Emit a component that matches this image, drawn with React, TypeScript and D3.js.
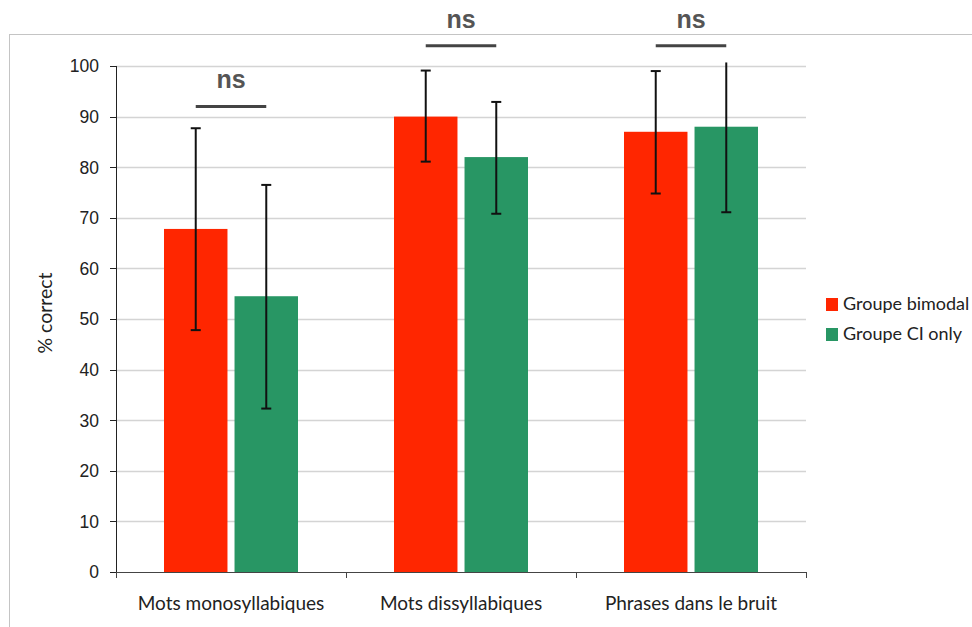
import React from "react";
import * as d3 from "d3";

const categories = ["Mots monosyllabiques", "Mots dissyllabiques", "Phrases dans le bruit"];
const seriesNames = ["Groupe bimodal", "Groupe CI only"];
const bimodalValues = [67.8, 90.0, 87.0];
const ciOnlyValues = [54.5, 82.0, 88.0];
const bimodalErrLow = [47.8, 81.1, 74.8];
const bimodalErrHigh = [87.7, 99.1, 99.0];
const ciOnlyErrLow = [32.3, 70.8, 71.1];
const ciOnlyErrHigh = [76.5, 92.9, 100.7];
const yTicks = [0, 10, 20, 30, 40, 50, 60, 70, 80, 90, 100];
const sigLabels = ["ns", "ns", "ns"];
const sigLevels = [92, 104, 104];

const colors = ["#ff2600", "#289664"];

export default function App() {
  const W = 972, H = 627;
  const left = 116, right = 806, top = 66, bottom = 572;
  const y = d3.scaleLinear().domain([0, 100]).range([bottom, top]);
  const x0 = d3.scaleBand().domain(categories).range([left, right]).paddingInner(0).paddingOuter(0);
  const x1 = d3.scaleBand().domain(seriesNames).range([48, x0.bandwidth() - 48]).paddingInner(0.1);
  const values = [bimodalValues, ciOnlyValues];
  const lows = [bimodalErrLow, ciOnlyErrLow];
  const highs = [bimodalErrHigh, ciOnlyErrHigh];
  const font = "Lato, 'Open Sans', sans-serif";

  return (
    <svg width={W} height={H} style={{ position: "absolute", left: 0, top: 0 }}>
      <rect x={0} y={0} width={W} height={H} fill="#fff" />
      <rect x={9.5} y={34.5} width={W} height={H} fill="none" stroke="#c4c4c4" strokeWidth={1} />
      {yTicks.map((t) => (
        <g key={t}>
          {t > 0 && (
            <line x1={left} x2={right} y1={Math.round(y(t)) + 0.5} y2={Math.round(y(t)) + 0.5} stroke="#d4d4d4" strokeWidth={1.5} />
          )}
          <line x1={left - 6} x2={left} y1={Math.round(y(t)) + 0.5} y2={Math.round(y(t)) + 0.5} stroke="#222" />
          <text x={left - 17} y={y(t)} dy="0.36em" textAnchor="end" fontFamily="'Liberation Sans', Arial, sans-serif" fontSize={17.5} fill="#222">
            {t}
          </text>
        </g>
      ))}
      {categories.map((c, ci) => (
        <g key={c} transform={`translate(${x0(c)},0)`}>
          {seriesNames.map((s, si) => {
            const v = values[si][ci];
            const bx = x1(s)!;
            return (
              <rect key={s} x={bx} y={y(v)} width={x1.bandwidth()} height={y(0) - y(v)} fill={colors[si]} />
            );
          })}
        </g>
      ))}
      <line x1={left + 0.5} x2={left + 0.5} y1={top} y2={bottom} stroke="#222" />
      <line x1={left} x2={right} y1={bottom + 0.5} y2={bottom + 0.5} stroke="#444" />
      {[...categories.map((c) => x0(c)!), right].map((tx, i) => (
        <line key={i} x1={Math.round(tx) + 0.5} x2={Math.round(tx) + 0.5} y1={bottom} y2={bottom + 6} stroke="#444" />
      ))}
      {categories.map((c, ci) => (
        <g key={c} transform={`translate(${x0(c)},0)`}>
          {seriesNames.map((s, si) => {
            const cx = x1(s)! + x1.bandwidth() / 2;
            const lo = lows[si][ci];
            const hi = highs[si][ci];
            return (
              <g key={s}>
                <line x1={cx} x2={cx} y1={y(lo)} y2={y(hi)} stroke="#111" strokeWidth={2} />
                {hi <= 100 && <line x1={cx - 5} x2={cx + 5} y1={y(hi)} y2={y(hi)} stroke="#111" strokeWidth={2} />}
                <line x1={cx - 5} x2={cx + 5} y1={y(lo)} y2={y(lo)} stroke="#111" strokeWidth={2} />
              </g>
            );
          })}
          <line
            x1={x1(seriesNames[0])! + x1.bandwidth() / 2}
            x2={x1(seriesNames[1])! + x1.bandwidth() / 2}
            y1={y(sigLevels[ci])}
            y2={y(sigLevels[ci])}
            stroke="#444"
            strokeWidth={3}
          />
          <text
            x={x0.bandwidth() / 2}
            y={y(sigLevels[ci]) - 18}
            textAnchor="middle"
            fontFamily="'Liberation Sans', Arial, sans-serif"
            fontWeight="bold"
            fontSize={25}
            fill="#555"
          >
            {sigLabels[ci]}
          </text>
          <text x={x0.bandwidth() / 2} y={bottom + 38} textAnchor="middle" fontFamily={font} fontSize={19} fill="#222">
            {c}
          </text>
        </g>
      ))}
      <text
        transform={`translate(${52},${313}) rotate(-90)`}
        textAnchor="middle"
        fontFamily={font}
        fontSize={19.5}
        fill="#222"
      >
        % correct
      </text>
      {seriesNames.map((s, si) => (
        <g key={s} transform={`translate(826,${298 + si * 30})`}>
          <rect x={0} y={0} width={12} height={13} fill={colors[si]} />
          <text x={17} y={12} fontFamily={font} fontSize={18} fill="#222">
            {s}
          </text>
        </g>
      ))}
    </svg>
  );
}
